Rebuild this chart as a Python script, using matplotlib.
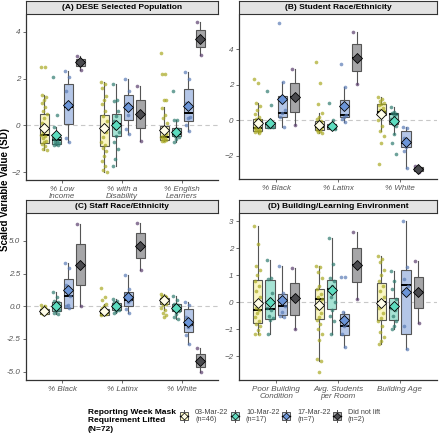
import numpy as np
import matplotlib
matplotlib.use('Agg')
import matplotlib.pyplot as plt
from matplotlib.patches import Rectangle

# groups (reporting week mask requirement lifted)
groups = ['03-Mar-22\n(n=46)', '10-Mar-22\n(n=17)', '17-Mar-22\n(n=7)', 'Did not lift\n(n=2)']
box_fill = ['#faf6c4', '#a6e3d4', '#b4c6e7', '#a6a6a8']
pt_col = ['#a9a922', '#2f7b6f', '#5a7bb5', '#5b3f6e']
mean_fill = ['#fffde8', '#5ddcbf', '#6b95d8', '#4a4a4e']

titles = ['(A) DESE Selected Population', '(B) Student Race/Ethnicity',
          '(C) Staff Race/Ethnicity', '(D) Building/Learning Environment']
cats_A = ['% Low\nIncome', '% with a\nDisability', '% English\nLearners']
cats_B = ['% Black', '% Latinx', '% White']
cats_C = ['% Black', '% Latinx', '% White']
cats_D = ['Poor Building\nCondition', 'Avg. Students\nper Room', 'Building Age']

# box stats: (whislo, q1, med, q3, whishi, mean) per variable, per group
box_A = [[(-1.05, -0.74, -0.41, 0.5, 1.3, -0.1), (-0.85, -0.8, -0.63, -0.48, -0.05, -0.41),
          (-0.72, 0.06, 0.8, 1.77, 2.33, 0.87), (2.36, 2.53, 2.69, 2.82, 2.97, 2.69)],
         [(-2.0, -0.88, -0.15, 0.44, 1.85, -0.1), (-1.75, -0.44, 0.04, 0.47, 1.75, 0.01),
          (-0.35, 0.23, 0.8, 1.3, 1.97, 0.77), (-0.68, -0.1, 0.5, 1.1, 1.68, 0.5)],
         [(-0.65, -0.63, -0.48, -0.03, 0.8, -0.2), (-0.7, -0.46, -0.37, -0.13, 0.25, -0.27),
          (-0.25, 0.17, 0.51, 1.54, 2.27, 0.83), (3.0, 3.36, 3.7, 4.07, 4.4, 3.7)]]
box_B = [[(-0.7, -0.6, -0.45, 0.06, 1.0, -0.17), (-0.41, -0.41, -0.22, -0.08, -0.05, -0.17),
          (-0.35, 0.17, 0.39, 1.37, 2.15, 1.22), (-0.28, 0.49, 1.3, 2.08, 2.88, 1.3)],
         [(-0.7, -0.55, -0.36, -0.04, 0.4, -0.26), (-0.5, -0.5, -0.36, -0.2, 0.0, -0.3),
          (-0.1, 0.17, 0.3, 1.15, 1.9, 0.81), (2.05, 2.78, 3.53, 4.28, 5.0, 3.53)],
         [(-0.6, 0.3, 0.49, 0.9, 1.3, 0.38), (-0.75, -0.21, 0.34, 0.39, 0.75, -0.02),
          (-2.7, -1.52, -1.3, -0.6, -0.35, -1.22), (-2.9, -2.84, -2.72, -2.61, -2.55, -2.72)]]
box_C = [[(-0.6, -0.56, -0.38, -0.2, 0.1, -0.38), (-0.6, -0.33, -0.05, 0.33, 1.1, 0.0),
          (-0.13, -0.13, 0.77, 2.1, 3.3, 1.23), (0.0, 1.59, 3.15, 4.74, 6.3, 3.15)],
         [(-0.65, -0.64, -0.51, -0.2, 0.2, -0.38), (-0.5, -0.31, -0.05, 0.26, 0.55, 0.0),
          (-0.5, 0.05, 0.51, 1.08, 2.4, 0.69), (2.8, 3.72, 4.62, 5.56, 6.4, 4.62)],
         [(-0.3, 0.2, 0.51, 0.64, 0.9, 0.44), (-1.0, -0.38, -0.13, 0.2, 0.75, -0.13),
          (-2.9, -1.97, -1.41, -0.2, 0.35, -1.23), (-5.0, -4.62, -4.15, -3.67, -3.2, -4.15)]]
box_D = [[(-1.2, -0.77, -0.3, 0.81, 2.82, -0.05), (-1.2, -0.61, -0.24, 0.81, 1.58, 0.0),
          (-0.55, -0.49, -0.15, 0.31, 1.35, 0.07), (-1.0, -0.46, 0.14, 0.72, 1.28, 0.14)],
         [(-2.2, -0.61, 0.1, 0.5, 1.35, -0.12), (-1.18, -0.27, 0.5, 0.81, 2.38, 0.45),
          (-1.65, -1.21, -0.87, -0.44, -0.35, -0.67), (0.13, 0.75, 1.38, 1.99, 2.62, 1.38)],
         [(-1.55, -0.67, 0.0, 0.72, 1.7, -0.02), (-1.0, -0.68, -0.21, 0.14, 1.15, -0.15),
          (-1.75, -1.18, 0.62, 1.18, 3.0, 0.37), (-0.77, -0.21, 0.37, 0.95, 1.53, 0.37)]]

# individual school values (read approx. from the points)
pts_A = [[[2.5, 2.48, 1.3, 1.2, 1.1, 0.95, 0.8, 0.6, 0.5, 0.3, 0.1, -0.1, -0.3, -0.4, -0.45, -0.55, -0.65, -0.72, -0.8, -0.9, -1.0, -1.05],
          [2.05, 0.45, -0.05, -0.45, -0.55, -0.6, -0.65, -0.7, -0.75, -0.8, -0.82, -0.85],
          [2.33, 2.05, 1.45, 0.85, 0.7, -0.55, -0.72],
          [2.97, 2.36]],
         [[1.85, 1.75, 1.6, 1.25, 1.1, 0.9, 0.6, 0.4, 0.2, 0.0, -0.15, -0.3, -0.5, -0.7, -0.85, -0.95, -1.1, -1.3, -1.5, -1.75, -1.9, -2.0],
          [1.75, 1.1, 1.05, 0.6, 0.4, 0.2, 0.05, -0.1, -0.3, -0.45, -0.7, -1.0, -1.45, -1.75],
          [1.97, 1.45, 0.9, 0.8, 0.45, -0.15, -0.35],
          [1.68, -0.68]],
         [[3.1, 2.2, 2.2, 1.1, 1.1, 0.75, 0.45, 0.3, 0.1, -0.05, -0.2, -0.35, -0.45, -0.5, -0.55, -0.6, -0.62, -0.65, -0.65],
          [1.48, 0.25, 0.23, -0.15, -0.3, -0.38, -0.42, -0.45, -0.5, -0.6, -0.7],
          [2.27, 2.0, 0.95, 0.35, 0.3, 0.0, -0.25],
          [4.4, 3.0]]]
pts_B = [[[2.35, 2.1, 1.0, 0.8, 0.6, 0.35, 0.2, 0.1, 0.0, -0.1, -0.25, -0.35, -0.4, -0.45, -0.5, -0.55, -0.6, -0.62, -0.65, -0.7],
          [1.65, 0.85, -0.1, -0.15, -0.2, -0.22, -0.25, -0.3, -0.35, -0.38, -0.4],
          [5.5, 2.15, 1.3, 0.6, 0.4, 0.2, -0.35],
          [2.88, -0.28]],
         [[3.3, 2.1, 0.9, 0.4, 0.2, 0.1, -0.05, -0.15, -0.25, -0.35, -0.4, -0.45, -0.5, -0.55, -0.6, -0.65, -0.7],
          [0.95, 0.0, -0.2, -0.25, -0.3, -0.35, -0.4, -0.45, -0.5],
          [3.15, 1.9, 0.8, 0.3, 0.2, 0.1, -0.1],
          [5.0, 2.05]],
         [[1.3, 1.2, 1.1, 1.0, 0.9, 0.85, 0.7, 0.6, 0.5, 0.45, 0.4, 0.3, 0.2, 0.0, -0.3, -0.6, -0.9, -1.3, -2.45],
          [0.75, 0.45, 0.4, 0.35, 0.3, 0.1, -0.1, -0.2, -0.3, -0.75, -1.3, -1.9],
          [-0.35, -0.45, -1.0, -1.3, -1.5, -1.7, -2.7],
          [-2.55, -2.9]]]
pts_C = [[[0.1, 0.0, -0.1, -0.2, -0.25, -0.3, -0.35, -0.38, -0.4, -0.45, -0.5, -0.55, -0.6],
          [1.1, 0.7, 0.4, 0.3, 0.1, 0.0, -0.1, -0.2, -0.3, -0.4, -0.5, -0.6],
          [3.3, 2.9, 1.6, 0.8, 0.1, 0.0, -0.1],
          [6.3, 0.0]],
         [[1.4, 0.7, 0.5, 0.2, 0.0, -0.15, -0.25, -0.35, -0.45, -0.5, -0.55, -0.6, -0.62, -0.65],
          [0.55, 0.4, 0.3, 0.2, 0.1, 0.0, -0.1, -0.2, -0.3, -0.4, -0.5],
          [2.4, 1.3, 0.9, 0.5, 0.3, -0.2, -0.5],
          [6.4, 2.8]],
         [[0.9, 0.8, 0.75, 0.7, 0.65, 0.6, 0.55, 0.5, 0.45, 0.4, 0.3, 0.2, 0.1, -0.1, -0.3, -0.5, -0.7, -0.8],
          [0.75, 0.5, 0.2, 0.1, 0.0, -0.1, -0.2, -0.3, -0.4, -0.6, -0.8, -1.0],
          [0.35, 0.1, -0.8, -1.4, -1.6, -2.2, -2.9],
          [-3.2, -5.0]]]
pts_D = [[[2.82, 2.15, 1.35, 1.2, 1.0, 0.8, 0.6, 0.4, 0.2, 0.0, -0.2, -0.3, -0.4, -0.55, -0.7, -0.8, -0.9, -1.05, -1.2, -1.2],
          [1.58, 0.9, 0.85, 0.35, 0.1, -0.2, -0.3, -0.5, -0.6, -0.65, -1.2],
          [1.35, 0.35, 0.1, -0.15, -0.35, -0.5, -0.55],
          [1.28, -1.0]],
         [[1.35, 1.3, 1.1, 0.9, 0.6, 0.5, 0.3, 0.2, 0.1, 0.0, -0.2, -0.4, -0.55, -0.65, -0.8, -1.0, -1.2, -1.4, -2.1, -2.2, -2.6],
          [2.38, 1.4, 0.9, 0.8, 0.6, 0.5, 0.4, 0.2, 0.0, -0.3, -0.5, -0.7, -1.18],
          [0.95, 0.93, -0.35, -0.8, -0.9, -1.2, -1.65],
          [2.62, 0.13]],
         [[1.7, 1.6, 1.5, 1.2, 1.0, 0.8, 0.6, 0.4, 0.2, 0.0, -0.2, -0.4, -0.6, -0.7, -0.9, -1.1, -1.3, -1.45, -1.55],
          [1.15, 0.8, 0.5, 0.1, -0.1, -0.2, -0.3, -0.5, -0.7, -0.9, -1.0],
          [3.0, 1.3, 0.85, 0.6, 0.4, -0.9, -1.75],
          [1.53, -0.77]]]

ylims = [(-2.33, 4.71), (-3.3, 5.93), (-5.64, 7.05), (-2.89, 3.27)]
yticks = [[-2, 0, 2, 4], [-2, 0, 2, 4], [-5, -2.5, 0, 2.5, 5], [-2, -1, 0, 1, 2, 3]]

W, H = 440, 437
plt.rcParams['font.family'] = 'Liberation Sans'
fig = plt.figure(figsize=(W / 100, H / 100), dpi=100)

offsets = [-0.3, -0.1, 0.1, 0.3]
# panel boxes in pixels: left, top, right, bottom
frames = [(26, 15, 218, 180), (239, 15, 437, 179), (26, 214, 218, 380), (239, 214, 437, 380)]

panels = [(cats_A, box_A, pts_A), (cats_B, box_B, pts_B), (cats_C, box_C, pts_C), (cats_D, box_D, pts_D)]

for p, (cats, boxes, pts) in enumerate(panels):
	l, t, r, b = frames[p]
	ax = fig.add_axes([l / W, 1 - b / H, (r - l) / W, (b - t) / H])
	sax = fig.add_axes([l / W, 1 - (t - 1) / H, (r - l) / W, 13 / H])
	sax.set_facecolor('#e3e3e3')
	sax.set_xticks([]); sax.set_yticks([])
	for s in sax.spines.values():
		s.set_color('#333333'); s.set_linewidth(0.8)
	sax.text(0.5, 0.48, titles[p], ha='center', va='center', fontsize=6.0, fontweight='bold')

	ax.axhline(0, color='#c8c8c8', lw=0.8, ls=(0, (4, 3)), zorder=0)
	for gi in range(4):
		stats = []
		pos = []
		for vi in range(3):
			wl, q1, md, q3, wh, mn = boxes[vi][gi]
			stats.append(dict(whislo=wl, q1=q1, med=md, q3=q3, whishi=wh, mean=mn, fliers=[]))
			pos.append(vi + 1 + offsets[gi])
		ax.bxp(stats, positions=pos, widths=0.15, patch_artist=True, showmeans=False, showcaps=False,
			boxprops=dict(facecolor=box_fill[gi], edgecolor='#555555', linewidth=0.8),
			whiskerprops=dict(color='#555555', linewidth=0.8),
			medianprops=dict(color='black', linewidth=1.4), zorder=2)
		for vi in range(3):
			vals = np.array(pts[vi][gi])
			k = np.arange(len(vals))
			jit = ((k * 0.618) % 1 - 0.5) * 0.1
			ax.scatter(vi + 1 + offsets[gi] + jit, vals, s=7, color=pt_col[gi], alpha=0.7,
				linewidths=0, zorder=3)
		# mean diamonds on top of points
		means = [boxes[vi][gi][5] for vi in range(3)]
		ax.plot(pos, means, marker='D', ls='none', mfc=mean_fill[gi], mec='black',
			mew=0.6, ms=5, zorder=4)

	ax.set_xlim(0.4, 3.6)
	ax.set_ylim(*ylims[p])
	ax.set_xticks([1, 2, 3])
	ax.set_xticklabels(cats, fontsize=5.8, style='italic', color='#555555', linespacing=1.0)
	ax.set_yticks(yticks[p])
	if p == 2:
		ax.set_yticklabels(['-5.0', '-2.5', '0.0', '2.5', '5.0'])
	ax.tick_params(axis='y', labelsize=5.8, labelcolor='#555555', length=2, width=0.6, color='#555555', pad=2)
	ax.tick_params(axis='x', length=2, width=0.6, color='#555555', pad=2)
	for lbl in ax.get_yticklabels():
		lbl.set_style('italic')
	for s in ['top', 'right']:
		ax.spines[s].set_visible(False)
	for s in ['left', 'bottom']:
		ax.spines[s].set_color('#333333'); ax.spines[s].set_linewidth(0.9)

fig.text(5 / W, 1 - 190 / H, 'Scaled Variable Value (SD)', rotation=90, ha='center', va='center',
	fontsize=7, fontweight='bold')

# legend, drawn in an overlay axes in pixel units
lax = fig.add_axes([0, 0, 1, 1])
lax.set_xlim(0, W); lax.set_ylim(H, 0)
lax.axis('off')
lax.text(88, 409, 'Reporting Week Mask\nRequirement Lifted\n(N=72)', ha='left', va='top',
	fontsize=6.0, fontweight='bold', linespacing=1.3)
for gi in range(4):
	cx, cy = 184 + gi * 51, 416
	lax.plot([cx, cx], [cy - 6, cy + 6], color='#555555', lw=0.7)
	lax.add_patch(Rectangle((cx - 4, cy - 4), 8, 8, facecolor=box_fill[gi], edgecolor='#555555', lw=0.7))
	lax.plot([cx - 4, cx + 4], [cy, cy], color='black', lw=1.0)
	lax.plot(cx, cy, marker='D', mfc=mean_fill[gi], mec='black', mew=0.5, ms=3.5)
	lax.text(cx + 11, cy, groups[gi], ha='left', va='center', fontsize=5.2, color='#444444',
		linespacing=1.0)

fig.savefig('out.png', dpi=100)
